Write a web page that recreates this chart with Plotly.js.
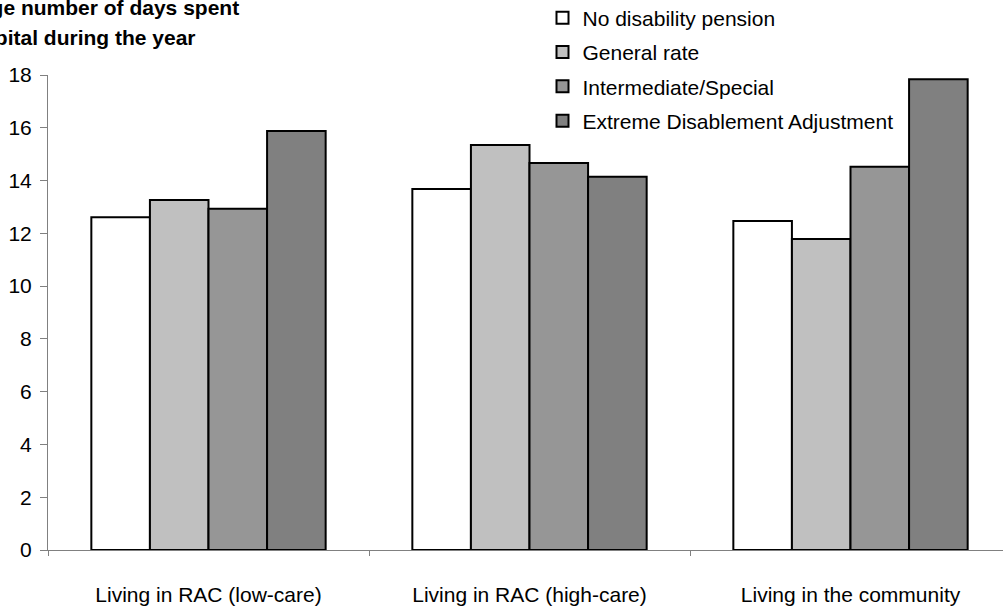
<!DOCTYPE html>
<html>
<head>
<meta charset="utf-8">
<script src="https://cdn.plot.ly/plotly-3.0.1.min.js"></script>
<style>
html,body{margin:0;padding:0;overflow:hidden;background:#fff;}
#chart{width:1020px;height:614px;}
</style>
</head>
<body>
<div id="chart"></div>
<script>
const categories = ["Living in RAC (low-care)", "Living in RAC (high-care)", "Living in the community"];
const seriesNames = ["No disability pension", "General rate", "Intermediate/Special", "Extreme Disablement Adjustment"];
const noPension = [12.61, 13.68, 12.47];
const generalRate = [13.26, 15.35, 11.79];
const intermediateSpecial = [12.93, 14.67, 14.52];
const extremeDisablement = [15.88, 14.14, 17.84];
const yTicks = [0, 2, 4, 6, 8, 10, 12, 14, 16, 18];
const titleLines = ["Average number of days spent", "in hospital during the year"];

const colors = ["#ffffff", "#c0c0c0", "#969696", "#808080"];
const values = [noPension, generalRate, intermediateSpecial, extremeDisablement];
const FONT = "Liberation Sans, Arial, sans-serif";

const traces = values.map((v, i) => ({
  type: "bar",
  name: seriesNames[i],
  x: categories,
  y: v,
  legendgroup: "g" + i,
  marker: {color: colors[i], line: {color: "#000000", width: 2}},
  hoverinfo: "x+y+name"
}));

const W = 1020, H = 614;
const m = {l: 48, r: 9, t: 75, b: 63.5, autoexpand: false};
const plotH = H - m.t - m.b;
const plotW = W - m.l - m.r;
const py = (pageY) => (H - m.b - pageY) / plotH;
const px = (pageX) => (pageX - m.l) / plotW;

const layout = {
  width: W, height: H,
  margin: m,
  paper_bgcolor: "#ffffff",
  plot_bgcolor: "#ffffff",
  font: {family: FONT, size: 21, color: "#000000"},
  barmode: "group",
  bargap: 0.27,
  bargroupgap: 0,
  showlegend: true,
  legend: {
    x: px(542.5), y: py(-2.5), xanchor: "left", yanchor: "top",
    bgcolor: "rgba(0,0,0,0)",
    font: {family: FONT, size: 21, color: "#000000"},
    tracegroupgap: 4,
    itemclick: false
  },
  xaxis: {
    type: "category",
    showline: true, linecolor: "#808080", linewidth: 1,
    ticks: "outside", ticklen: 5, tickcolor: "#808080", tickwidth: 1,
    tickson: "boundaries",
    ticklabelstandoff: 26,
    showgrid: false, zeroline: false,
    tickfont: {family: FONT, size: 21, color: "#000000"}
  },
  yaxis: {
    range: [0, 18],
    tickvals: yTicks,
    ticktext: yTicks.map(String),
    showline: true, linecolor: "#808080", linewidth: 1,
    ticks: "outside", ticklen: 7, tickcolor: "#808080", tickwidth: 1,
    ticklabelstandoff: 4,
    showgrid: false, zeroline: false,
    tickfont: {family: FONT, size: 21, color: "#000000"}
  },
  annotations: [
    {xref: "paper", yref: "paper", x: px(-69), y: py(7), xanchor: "left", yanchor: "middle",
     text: "<b>" + titleLines[0] + "</b>", showarrow: false,
     font: {family: FONT, size: 21, color: "#000000"}},
    {xref: "paper", yref: "paper", x: px(-69), y: py(37), xanchor: "left", yanchor: "middle",
     text: "<b>" + titleLines[1] + "</b>", showarrow: false,
     font: {family: FONT, size: 21, color: "#000000"}}
  ]
};

Plotly.newPlot("chart", traces, layout, {displayModeBar: false, staticPlot: true});
</script>
</body>
</html>
